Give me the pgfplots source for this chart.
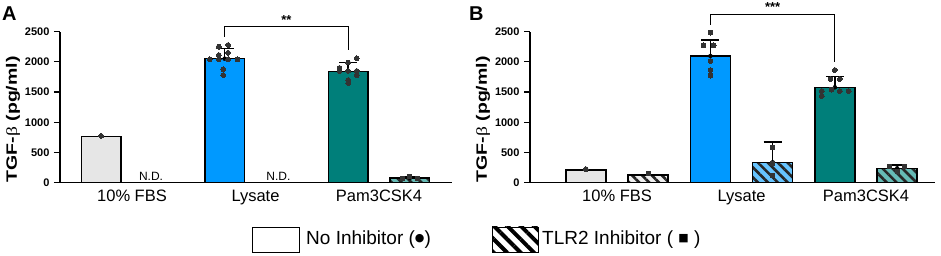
\documentclass[border=0pt]{standalone}
\usepackage{fontspec}
\setmainfont{Liberation Sans}
\newfontfamily\symfont{DejaVu Sans}
\newfontfamily\serfont{Liberation Serif}
\usepackage{graphicx}
\usepackage{pgfplots}
\pgfplotsset{compat=1.18}
\usetikzlibrary{patterns.meta}
\definecolor{grayfill}{HTML}{E6E6E6}
\definecolor{lysc}{HTML}{0099FF}
\definecolor{pamc}{HTML}{007F7A}
\definecolor{lysl}{HTML}{66C4FF}
\definecolor{paml}{HTML}{66BAB5}
\definecolor{dotc}{HTML}{333333}
\pgfplotsset{
  panel/.style={
    scale only axis, height=151pt, ymin=0, ymax=2500,
    axis x line=bottom, axis y line=left,
    axis line style={-, line width=1.4pt},
    xtick={0,1,2}, xticklabels={10\% FBS, Lysate, Pam3CSK4},
    x tick style={draw=none},
    ytick={0,500,1000,1500,2000,2500},
    y tick style={line width=1.2pt, black}, tick align=outside, major tick length=6pt,
    /pgf/number format/assume math mode=true,
    /pgf/number format/1000 sep={},
    yticklabel style={font=\fontsize{11}{12}\selectfont\bfseries, xshift=-1pt},
    xticklabel style={font=\fontsize{16.5}{18}\selectfont, yshift=2pt},
    ylabel={\scalebox{1.3}[1]{TGF-{\serfont\mdseries β} (pg/ml)}},
    ylabel style={font=\fontsize{15}{16}\selectfont\bfseries, at={(ticklabel cs:0.42)}, yshift=-2pt},
    clip=false,
  },
  bb/.style={ybar, bar width=0.32, bar shift=0pt, draw=black, line width=1.5pt, forget plot},
  hatch/.style={postaction={pattern={Lines[angle=-45, distance=7pt, line width=2.6pt]}, pattern color=black!85}},
  eb/.style={black, only marks, mark=none, forget plot,
    error bars/.cd, y dir=plus, y explicit,
    error bar style={line width=1.3pt, black},
    error mark options={rotate=90, mark size=9pt, line width=1.3pt, black}},
  dots/.style={only marks, mark=*, mark size=2.4pt, mark options={fill=dotc, draw=dotc, line width=0pt}, forget plot},
  sq/.style={only marks, mark=square*, mark size=2pt, mark options={fill=dotc, draw=dotc, line width=0pt}, forget plot},
}
\begin{document}
\begin{tikzpicture}[x=1pt,y=1pt]
\useasboundingbox (0,0) rectangle (941,256);
% Panel A
\begin{axis}[panel, at={(60pt,73.3pt)}, anchor=south west, width=392pt,
  xmin=-0.583, xmax=2.591]
\addplot[bb, fill=grayfill] coordinates {(-0.25,765)};
\addplot[bb, fill=lysc] coordinates {(0.75,2053)};
\addplot[bb, fill=pamc] coordinates {(1.75,1844)};
\addplot[bb, fill=paml, hatch] coordinates {(2.25,78)};
\addplot[eb] coordinates {(0.75,2053) +- (0,165) (1.75,1844) +- (0,143) (2.25,78) +- (0,14)};
\addplot[dots] coordinates {(-0.25,775)
 (0.703,2252) (0.778,2280) (0.703,2114) (0.778,2152) (0.63,2043) (0.703,2043) (0.778,2043) (0.854,2043) (0.738,1877) (0.738,1783)
 (1.82,2060) (1.75,1990) (1.68,1900) (1.68,1850) (1.75,1850) (1.82,1850) (1.82,1780) (1.75,1700) (1.75,1650)};
\addplot[sq] coordinates {(2.25,100) (2.19,70) (2.31,68)};
\node[font=\fontsize{12}{13}\selectfont, anchor=base] at (axis cs:0.154,30) {N.D.};
\node[font=\fontsize{12}{13}\selectfont, anchor=base] at (axis cs:1.186,30) {N.D.};
\draw[line width=1pt] (axis cs:0.75,2417) -- (axis cs:0.75,2583) -- (axis cs:1.75,2583) -- (axis cs:1.75,2197);
\node[font=\fontsize{13}{14}\selectfont\bfseries] at (axis cs:1.25,2700) {**};
\end{axis}
\node[font=\fontsize{20}{22}\selectfont\bfseries, anchor=north west, inner sep=0pt] at (2,249) {A};
% Panel B
\begin{axis}[panel, at={(530pt,73.3pt)}, anchor=south west, width=405pt,
  xmin=-0.699, xmax=2.554]
\addplot[bb, fill=grayfill] coordinates {(-0.25,210)};
\addplot[bb, fill=grayfill!60!white, hatch] coordinates {(0.25,128)};
\addplot[bb, fill=lysc] coordinates {(0.75,2098)};
\addplot[bb, fill=lysl, hatch] coordinates {(1.25,338)};
\addplot[bb, fill=pamc] coordinates {(1.75,1579)};
\addplot[bb, fill=paml, hatch] coordinates {(2.25,238)};
\addplot[eb] coordinates {(0.75,2098) +- (0,264) (1.25,338) +- (0,336) (1.75,1579) +- (0,176) (2.25,238) +- (0,55)};
\addplot[dots] coordinates {(-0.25,225)
 (0.75,2484) (0.695,2275) (0.776,2275) (0.75,2015) (0.75,1866) (0.75,1772)
 (1.75,1866) (1.715,1717) (1.79,1717) (1.645,1518) (1.723,1540) (1.79,1518) (1.86,1518) (1.645,1435)};
\addplot[sq] coordinates {(0.25,150) (1.25,580) (1.25,320) (1.25,115) (2.19,260) (2.31,270) (2.25,190)};
\draw[line width=1pt] (axis cs:0.75,2611) -- (axis cs:0.75,2788) -- (axis cs:1.75,2788) -- (axis cs:1.75,2003);
\node[font=\fontsize{13}{14}\selectfont\bfseries] at (axis cs:1.25,2905) {***};
\end{axis}
\node[font=\fontsize{20}{22}\selectfont\bfseries, anchor=north west, inner sep=0pt] at (469,249) {B};
% Legend
\draw[line width=0.9pt, fill=white] (252,4) rectangle (299,29);
\node[anchor=west, font=\fontsize{19}{20}\selectfont, inner sep=0pt] at (306,16.5) {No Inhibitor (\raisebox{2.5pt}{\symfont\fontsize{11}{12}\selectfont ●})};
\draw[line width=0.9pt, fill=white, postaction={pattern={Lines[angle=-45, distance=9.5pt, line width=4pt]}, pattern color=black}] (492,4) rectangle (538,29);
\node[anchor=west, font=\fontsize{19}{20}\selectfont, inner sep=0pt] at (542,16.5) {TLR2 Inhibitor ( \raisebox{2.5pt}{\symfont\fontsize{11}{12}\selectfont ■} )};
\end{tikzpicture}
\end{document}
